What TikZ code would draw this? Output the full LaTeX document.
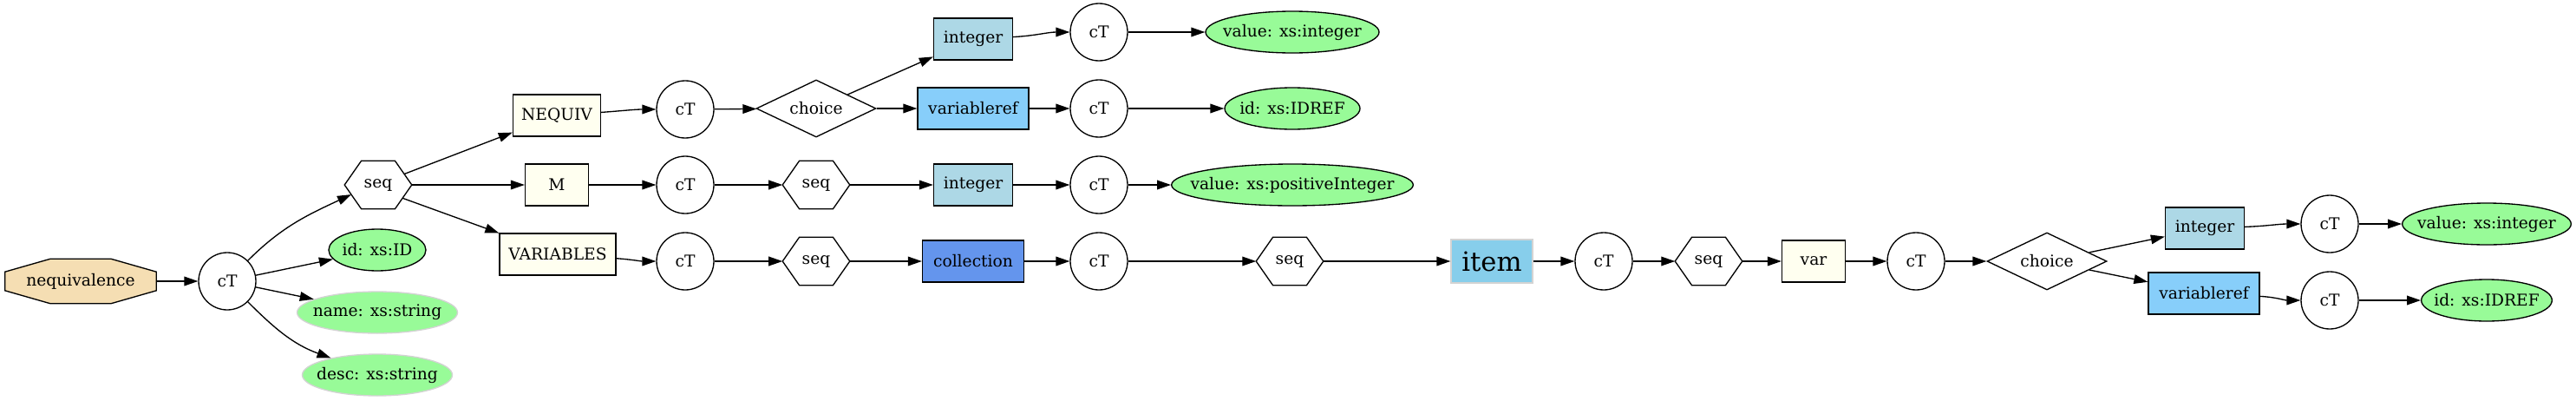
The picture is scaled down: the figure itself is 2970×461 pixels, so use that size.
\documentclass[tikz,border=0pt]{standalone}
\usepackage{fontspec}
\setmainfont{DejaVu Serif}
\usetikzlibrary{arrows.meta,shapes.geometric,calc,backgrounds}
\definecolor{cwheat}{HTML}{F5DEB3}
\definecolor{civory}{HTML}{FFFFF0}
\definecolor{clightblue}{HTML}{ADD8E6}
\definecolor{clskyblue}{HTML}{87CEFA}
\definecolor{ccorn}{HTML}{6495ED}
\definecolor{cskyblue}{HTML}{87CEEB}
\definecolor{cpalegreen}{HTML}{98FB98}
\definecolor{clightgray}{HTML}{D3D3D3}
\newcommand\hexdraw[1]{%
  \coordinate (#1-nw) at ($(#1.north west)!0.25!(#1.north east)$);
  \coordinate (#1-ne) at ($(#1.north west)!0.75!(#1.north east)$);
  \coordinate (#1-sw) at ($(#1.south west)!0.25!(#1.south east)$);
  \coordinate (#1-se) at ($(#1.south west)!0.75!(#1.south east)$);
  \draw[line width=1pt] (#1.west) -- (#1-nw) -- (#1-ne) -- (#1.east) -- (#1-se) -- (#1-sw) -- cycle;}
\newcommand\zb[1]{\makebox[0pt]{#1}}
\begin{document}
\begin{tikzpicture}[x=0.75pt,y=-0.75pt,
  every node/.style={font=\fontsize{14pt}{16pt}\selectfont, inner sep=0pt},
  ctnode/.style={circle, draw, line width=1pt, minimum size=49.5pt},
  elbox/.style={rectangle, draw, line width=1pt, minimum height=36pt},
  hexnode/.style={rectangle, minimum width=57.75pt, minimum height=41.25pt},
  chnode/.style={diamond, draw, line width=1pt, minimum width=103.5pt, minimum height=49.5pt},
  attr/.style={ellipse, draw, line width=1pt, fill=cpalegreen, minimum height=36pt},
  optattr/.style={attr, draw=clightgray},
  edge/.style={line width=1pt, -{Triangle[length=12pt,width=8pt]}}]
\useasboundingbox (0,0) rectangle (2970,461);
% root
\node[rectangle, minimum width=130.5pt, minimum height=38.25pt] (neq) at (93,324) {nequivalence};
\node[ctnode] (c0) at (262,324) {cT};
\node[hexnode] (s1) at (436,213) {seq};
\node[attr, minimum width=84pt] (aid) at (435,288) {\zb{id: xs:ID}};
\node[optattr, minimum width=138.75pt] (aname) at (435,360) {\zb{name: xs:string}};
\node[optattr, minimum width=129.75pt] (adesc) at (435,432) {\zb{desc: xs:string}};
% column elements
\node[elbox, fill=civory, minimum width=75.75pt] (neqv) at (642,133) {NEQUIV};
\node[elbox, fill=civory, minimum width=54.75pt] (em) at (642,213) {M};
\node[elbox, fill=civory, minimum width=100.5pt] (vars) at (643,293) {VARIABLES};
\node[ctnode] (c1) at (790,126) {cT};
\node[ctnode] (c2) at (790,213) {cT};
\node[ctnode] (c3) at (790,301) {cT};
\node[chnode] (ch1) at (941,125) {\zb{choice}};
\node[hexnode] (s2) at (941,213) {seq};
\node[hexnode] (s3) at (941,301) {seq};
\node[elbox, fill=clightblue, minimum width=68.25pt] (int1) at (1122,45) {integer};
\node[elbox, fill=clskyblue, minimum width=96pt] (vref1) at (1122,125) {variableref};
\node[elbox, fill=clightblue, minimum width=68.25pt] (int2) at (1122,213) {integer};
\node[elbox, fill=ccorn, minimum width=87.75pt] (coll) at (1122,301) {collection};
\node[ctnode] (c4) at (1267,37) {cT};
\node[ctnode] (c5) at (1267,125) {cT};
\node[ctnode] (c6) at (1267,213) {cT};
\node[ctnode] (c7) at (1267,301) {cT};
\node[attr, minimum width=150pt] (v1) at (1490,37) {\zb{value: xs:integer}};
\node[attr, minimum width=117pt] (idr1) at (1490,125) {\zb{id: xs:IDREF}};
\node[attr, minimum width=209pt] (v2) at (1490,213) {\zb{value: xs:positiveInteger}};
\node[hexnode] (s4) at (1487,301) {seq};
\node[rectangle, draw=clightgray, line width=1pt, fill=cskyblue, minimum width=70.5pt, minimum height=37.5pt, font=\fontsize{23pt}{26pt}\selectfont] (item) at (1720,301) {item};
\node[ctnode] (c8) at (1849,301) {cT};
\node[hexnode] (s5) at (1970,301) {seq};
\node[elbox, fill=civory, minimum width=54.75pt] (var) at (2091,301) {var};
\node[ctnode] (c9) at (2209,301) {cT};
\node[chnode] (ch2) at (2360,301) {\zb{choice}};
\node[elbox, fill=clightblue, minimum width=68.25pt] (int3) at (2542,263) {integer};
\node[elbox, fill=clskyblue, minimum width=96pt] (vref2) at (2541,338) {variableref};
\node[ctnode] (c10) at (2686,258) {cT};
\node[ctnode] (c11) at (2686,346) {cT};
\node[attr, minimum width=146pt] (v3) at (2867,258) {\zb{value: xs:integer}};
\node[attr, minimum width=113pt] (idr2) at (2867,346) {\zb{id: xs:IDREF}};
% octagon for the root
\begin{scope}[on background layer]
\filldraw[fill=cwheat, line width=1pt]
  ($(neq.north west)!0.3!(neq.north east)$) -- ($(neq.north west)!0.7!(neq.north east)$)
  -- ($(neq.north east)!0.29!(neq.south east)$) -- ($(neq.north east)!0.71!(neq.south east)$)
  -- ($(neq.south west)!0.7!(neq.south east)$) -- ($(neq.south west)!0.3!(neq.south east)$)
  -- ($(neq.north west)!0.71!(neq.south west)$) -- ($(neq.north west)!0.29!(neq.south west)$) -- cycle;
\end{scope}
% hexagons
\foreach \h in {s1,s2,s3,s4,s5} {\hexdraw{\h}}
% connectors
\draw[edge] (neq) -- (c0);
\draw[edge] (c0) to[out=45,in=205] ($(s1.west)!0.4!(s1-sw)$);
\draw[edge] (c0) -- (aid);
\draw[edge] (c0) -- (aname);
\draw[edge] (c0) to[out=-45,in=160] (adesc);
\draw[edge] ($(s1-ne)!0.55!(s1.east)$) -- (neqv);
\draw[edge] (s1.east) -- (em);
\draw[edge] ($(s1-se)!0.45!(s1.east)$) -- (vars);
\draw[edge] (neqv) to[out=4,in=180] (c1);
\draw[edge] (em) -- (c2);
\draw[edge] (vars) to[out=-4,in=180] (c3);
\draw[edge] (c1) -- (ch1);
\draw[edge] (ch1) -- (int1);
\draw[edge] (ch1) -- (vref1);
\draw[edge] (c2) -- (s2.west);
\draw[edge] (s2.east) -- (int2);
\draw[edge] (c3) -- (s3.west);
\draw[edge] (s3.east) -- (coll);
\draw[edge] (int1) to[out=3,in=180] (c4);
\draw[edge] (vref1) -- (c5);
\draw[edge] (int2) -- (c6);
\draw[edge] (coll) -- (c7);
\draw[edge] (c4) -- (v1);
\draw[edge] (c5) -- (idr1);
\draw[edge] (c6) -- (v2);
\draw[edge] (c7) -- (s4.west);
\draw[edge] (s4.east) -- (item);
\draw[edge] (item) -- (c8);
\draw[edge] (c8) -- (s5.west);
\draw[edge] (s5.east) -- (var);
\draw[edge] (var) -- (c9);
\draw[edge] (c9) -- (ch2);
\draw[edge] (ch2) -- (int3);
\draw[edge] (ch2) -- (vref2);
\draw[edge] (int3) to[out=2,in=180] (c10);
\draw[edge] (vref2) to[out=-3,in=180] (c11);
\draw[edge] (c10) -- (v3);
\draw[edge] (c11) -- (idr2);
\end{tikzpicture}
\end{document}
